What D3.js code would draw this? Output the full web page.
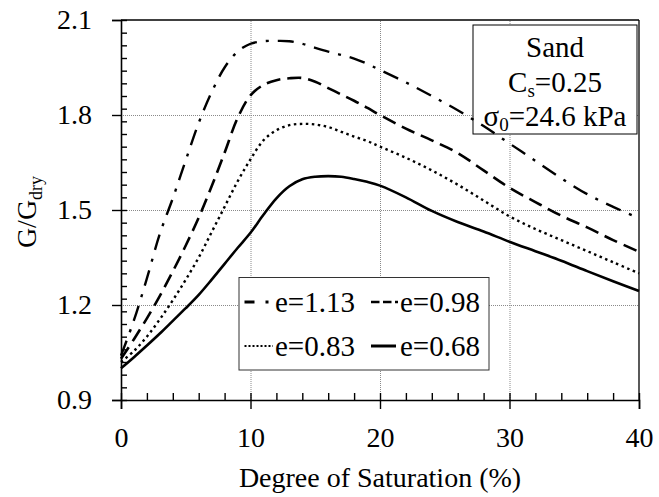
<!DOCTYPE html>
<html>
<head>
<meta charset="utf-8">
<script src="https://cdn.jsdelivr.net/npm/d3@7"></script>
</head>
<body style="margin:0">
<svg id="s" width="659" height="497" font-family="Liberation Serif" style="font-family:'Liberation Serif'">
<style>text, tspan { font-family: 'Liberation Serif' !important; }</style>
</svg>
<script>
// ---- data ----
const e113 = [[0,1.04],[1,1.152],[2,1.284],[3,1.425],[4,1.537],[5,1.657],[6,1.775],[7,1.872],[8,1.95],[9,2.0],[10,2.025],[11,2.033],[12,2.034],[13,2.033],[14,2.025],[15,2.012],[16,2.0],[17,1.99],[18,1.978],[19,1.962],[20,1.942],[22,1.903],[24,1.86],[26,1.815],[28,1.765],[30,1.71],[32,1.655],[34,1.6],[36,1.55],[38,1.51],[40,1.474]];
const e098 = [[0,1.03],[1,1.092],[2,1.158],[3,1.229],[4,1.306],[5,1.388],[6,1.476],[7,1.575],[8,1.681],[9,1.79],[10,1.862],[11,1.895],[12,1.91],[13,1.916],[14,1.917],[15,1.905],[16,1.885],[17,1.865],[18,1.845],[19,1.823],[20,1.8],[22,1.757],[24,1.72],[26,1.68],[28,1.625],[30,1.57],[32,1.525],[34,1.482],[36,1.445],[38,1.405],[40,1.368]];
const e083 = [[0,1.02],[1,1.055],[2,1.1],[3,1.155],[4,1.215],[5,1.28],[6,1.35],[7,1.43],[8,1.51],[9,1.59],[10,1.66],[11,1.72],[12,1.752],[13,1.768],[14,1.772],[15,1.77],[16,1.762],[17,1.747],[18,1.732],[19,1.718],[20,1.7],[22,1.665],[24,1.625],[26,1.58],[28,1.53],[30,1.48],[32,1.44],[34,1.405],[36,1.37],[38,1.335],[40,1.3]];
const e068 = [[0,1.0],[1,1.035],[2,1.072],[3,1.11],[4,1.15],[5,1.19],[6,1.232],[7,1.28],[8,1.33],[9,1.38],[10,1.428],[11,1.485],[12,1.537],[13,1.575],[14,1.597],[15,1.605],[16,1.607],[17,1.605],[18,1.598],[19,1.589],[20,1.577],[22,1.54],[24,1.497],[26,1.462],[28,1.432],[30,1.4],[32,1.37],[34,1.34],[36,1.307],[38,1.275],[40,1.244]];
const seriesNames = ["e=1.13", "e=0.98", "e=0.83", "e=0.68"];
const xTicks = [0, 10, 20, 30, 40];
const yTicks = [0.9, 1.2, 1.5, 1.8, 2.1];
const xMinor = d3.range(0, 40.001, 2);
const yMinor = d3.range(0, 31).map(k => +(0.9 + 0.04 * k).toFixed(2));
const xTitle = "Degree of Saturation (%)";
const noteLines = ["Sand", "C|s|=0.25", "σ|0|=24.6 kPa"];

// ---- layout ----
const FONT = "'Liberation Serif'";
const svg = d3.select("#s");
const L = 121, R = 639, T = 20, B = 400;
const x = d3.scaleLinear().domain([0, 40]).range([L, R]);
const y = d3.scaleLinear().domain([0.9, 2.1]).range([B, T]);
const FS = 28;
const serif = sel => sel.style("font-family", FONT);

// gridlines
svg.append("g").attr("transform", `translate(0,${B})`)
  .call(d3.axisBottom(x).tickValues([10, 20, 30]).tickSize(-(B - T)).tickFormat(""))
  .call(g => g.select(".domain").remove())
  .selectAll("line").attr("stroke", "#8a8a8a").attr("stroke-width", 1).attr("stroke-dasharray", "1,1");
svg.append("g").attr("transform", `translate(${L},0)`)
  .call(d3.axisLeft(y).tickValues([1.2, 1.5, 1.8]).tickSize(-(R - L)).tickFormat(""))
  .call(g => g.select(".domain").remove())
  .selectAll("line").attr("stroke", "#8a8a8a").attr("stroke-width", 1).attr("stroke-dasharray", "1,1");

// annotation box (white, under the curves)
const nb = { x0: 473, y0: 25, x1: 637, y1: 134 };
svg.append("rect").attr("x", nb.x0).attr("y", nb.y0).attr("width", nb.x1 - nb.x0).attr("height", nb.y1 - nb.y0)
  .attr("fill", "#fff").attr("stroke", "#000").attr("stroke-width", 1);
const noteBase = [57, 92, 126];
noteLines.forEach((s, i) => {
  const parts = s.split("|");
  const t = svg.append("text").attr("x", 555).attr("y", noteBase[i]).attr("text-anchor", "middle")
    .call(serif).attr("font-size", 29);
  t.append("tspan").text(parts[0]);
  if (parts.length > 1) {
    t.append("tspan").attr("font-size", 19).attr("dy", 5).text(parts[1]);
    t.append("tspan").attr("dy", -5).text(parts[2]);
  }
});

// frame top/right
svg.append("line").attr("x1", L).attr("x2", R).attr("y1", T).attr("y2", T).attr("stroke", "#000").attr("stroke-width", 1.3);
svg.append("line").attr("x1", R).attr("x2", R).attr("y1", T).attr("y2", B).attr("stroke", "#000").attr("stroke-width", 1.3);

// axes
const xAxisG = svg.append("g").attr("transform", `translate(0,${B})`);
xAxisG.append("g").call(d3.axisBottom(x).tickValues(xMinor).tickSize(-7).tickFormat(""))
  .call(g => g.select(".domain").remove());
xAxisG.append("g").call(d3.axisBottom(x).tickValues(xTicks).tickSize(9).tickPadding(18).tickFormat(d3.format("d")))
  .call(g => g.select(".domain").attr("stroke-width", 1.6));
xAxisG.selectAll("g").attr("font-family", null).attr("font-size", null);
xAxisG.selectAll("text").call(serif).attr("font-size", FS);
xAxisG.selectAll("line").attr("stroke", "#000").attr("stroke-width", 1.4);

const yAxisG = svg.append("g").attr("transform", `translate(${L},0)`);
yAxisG.append("g").call(d3.axisLeft(y).tickValues(yMinor).tickSize(-6).tickFormat(""))
  .call(g => g.select(".domain").remove());
yAxisG.append("g").call(d3.axisLeft(y).tickValues(yTicks).tickSize(9).tickPadding(20).tickFormat(d3.format(".1f")))
  .call(g => g.select(".domain").attr("stroke-width", 1.6));
yAxisG.selectAll("g").attr("font-family", null).attr("font-size", null);
yAxisG.selectAll("text").call(serif).attr("font-size", FS);
yAxisG.selectAll("line").attr("stroke", "#000").attr("stroke-width", 1.4);

// axis titles
svg.append("text").attr("x", 380).attr("y", 487).attr("text-anchor", "middle")
  .call(serif).attr("font-size", FS).text(xTitle);
const yt = svg.append("text").attr("transform", "translate(36,212) rotate(-90)").attr("text-anchor", "middle")
  .call(serif).attr("font-size", FS);
yt.append("tspan").text("G/G");
yt.append("tspan").attr("font-size", 18).attr("dy", 6).text("dry");

// curves
const styles = [
  { data: e113, dash: "16,9,3,9", w: 2.4 },
  { data: e098, dash: "14,7", w: 2.6 },
  { data: e083, dash: "2.5,3.5", w: 2.4 },
  { data: e068, dash: null, w: 2.6 }
];
const line = d3.line().x(d => x(d[0])).y(d => y(d[1])).curve(d3.curveCatmullRom.alpha(0.5));
styles.forEach(s => {
  const p = svg.append("path").attr("d", line(s.data)).attr("fill", "none").attr("stroke", "#000")
    .attr("stroke-width", s.w);
  if (s.dash) p.attr("stroke-dasharray", s.dash);
});

// legend
const lg = { x0: 239, y0: 277.5, x1: 489, y1: 370 };
svg.append("rect").attr("x", lg.x0).attr("y", lg.y0).attr("width", lg.x1 - lg.x0).attr("height", lg.y1 - lg.y0)
  .attr("fill", "#fff").attr("stroke", "#333").attr("stroke-width", 1);
const legItems = [
  { sx: 244.5, ex: 272, ty: 302, tx: 275, dash: "10,11,3,20", w: 3 },
  { sx: 371, ex: 398, ty: 302, tx: 400, dash: "8.5,3.5", w: 2.6 },
  { sx: 244.5, ex: 273, ty: 346, tx: 275, dash: "2,2", w: 2.2 },
  { sx: 371, ex: 396, ty: 346, tx: 400, dash: null, w: 3 }
];
legItems.forEach((it, i) => {
  const l = svg.append("line").attr("x1", it.sx).attr("x2", it.ex).attr("y1", it.ty).attr("y2", it.ty)
    .attr("stroke", "#000").attr("stroke-width", it.w);
  if (it.dash) l.attr("stroke-dasharray", it.dash);
  svg.append("text").attr("x", it.tx).attr("y", it.ty + 9.5).call(serif)
    .attr("font-size", 29).text(seriesNames[i]);
});
</script>
</body>
</html>
